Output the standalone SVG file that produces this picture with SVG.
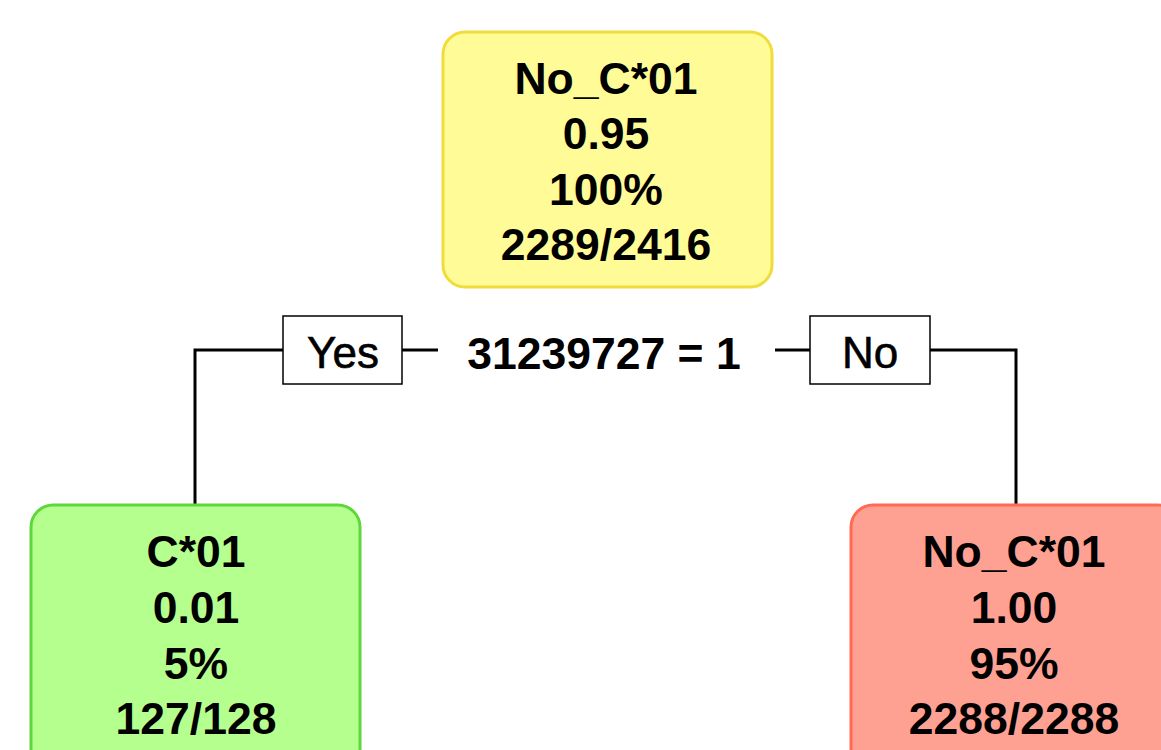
<svg xmlns="http://www.w3.org/2000/svg" width="1161" height="750" viewBox="0 0 1161 750">
<style>
.node{stroke-width:3}
.t{font-family:"Liberation Sans",Arial,sans-serif;font-weight:bold;font-size:44.5px;fill:#000;text-anchor:middle}
.lbl{font-family:"Liberation Sans",Arial,sans-serif;font-size:44px;fill:#000;text-anchor:middle;stroke:#000;stroke-width:0.6}
.conn{stroke:#000;stroke-width:3;fill:none}
.lbox{fill:#fff;stroke:#000;stroke-width:1.5}
</style>
<rect width="1161" height="750" fill="#fff"/>
<g id="connectors">
<polyline class="conn" points="283,350 195,350 195,505"/>
<line class="conn" x1="402" y1="350" x2="438" y2="350"/>
<line class="conn" x1="775" y1="350" x2="810" y2="350"/>
<polyline class="conn" points="930,350 1016,350 1016,505"/>
<g id="label-yes"><rect class="lbox" x="283" y="316" width="119" height="68"/><text class="lbl" x="343" y="368">Yes</text></g>
<g id="label-no"><rect class="lbox" x="810" y="316" width="120" height="68"/><text class="lbl" x="870" y="368">No</text></g>
<text id="split" class="t" x="604" y="369">31239727 = 1</text>
</g>
<g id="root">
<rect class="node" x="443" y="32" width="329" height="255" rx="22" fill="#fffb96" stroke="#f0dc3c"/>
<text class="t" x="606" y="94">No_C*01</text>
<text class="t" x="606" y="149">0.95</text>
<text class="t" x="606" y="205">100%</text>
<text class="t" x="606" y="260">2289/2416</text>
</g>
<g id="left">
<rect class="node" x="31" y="505" width="329" height="270" rx="22" fill="#b5ff8e" stroke="#5fd63c"/>
<text class="t" x="196" y="567">C*01</text>
<text class="t" x="196" y="623">0.01</text>
<text class="t" x="196" y="679">5%</text>
<text class="t" x="196" y="734">127/128</text>
</g>
<g id="right">
<rect class="node" x="851" y="505" width="329" height="270" rx="22" fill="#ffa192" stroke="#ff6a52"/>
<text class="t" x="1014" y="567">No_C*01</text>
<text class="t" x="1014" y="623">1.00</text>
<text class="t" x="1014" y="679">95%</text>
<text class="t" x="1014" y="734">2288/2288</text>
</g>
</svg>
